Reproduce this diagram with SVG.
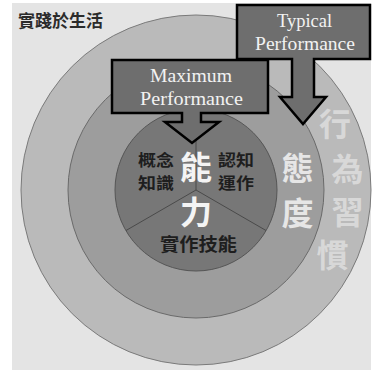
<svg xmlns="http://www.w3.org/2000/svg" width="373" height="371" viewBox="0 0 373 371">
<style>
.cjk{font-family:"Noto Sans CJK TC","Noto Sans CJK SC",sans-serif;font-weight:bold;text-anchor:middle}
.big{font-size:32px}
.small{font-size:18px;fill:#1e1e1e}
.pair{font-size:16px;fill:#1e1e1e}
.serif{font-family:"Liberation Serif",serif;font-size:18px;fill:#f2f2f2;text-anchor:middle}
.callout{fill:#6e6e6e;stroke:#000;stroke-width:2.5;stroke-linejoin:miter}
</style>
<rect x="0" y="0" width="373" height="371" fill="#ffffff"/>
<rect x="12" y="3" width="359" height="367" fill="#e4e4e4"/>
<g id="outer">
<circle cx="196" cy="190" r="175" fill="#bababa" stroke="#7a7a7a" stroke-width="1"/>
</g>
<g id="middle">
<circle cx="196" cy="190" r="128" fill="#9d9d9d" stroke="#6a6a6a" stroke-width="1"/>
</g>
<g id="inner">
<circle cx="196" cy="190" r="81" fill="#777777" stroke="#555555" stroke-width="1"/>
<g stroke="#4a4a4a" stroke-width="1">
<line x1="196" y1="190" x2="196" y2="109"/>
<line x1="196" y1="190" x2="126" y2="230.5"/>
<line x1="196" y1="190" x2="266" y2="230.5"/>
</g>
</g>
<g id="title">
<text x="18" y="26.5" class="cjk" style="text-anchor:start;font-size:17px;fill:#2b2b2b">實踐於生活</text>
</g>
<g id="ability">
<text x="196" y="179" class="cjk big" fill="#f4f4f4">能</text>
<text x="196" y="224" class="cjk big" fill="#f4f4f4">力</text>
<text x="156" y="165.5" class="cjk pair" textLength="36" lengthAdjust="spacingAndGlyphs">概念</text>
<text x="156" y="189" class="cjk pair" textLength="36" lengthAdjust="spacingAndGlyphs">知識</text>
<text x="236" y="165.5" class="cjk pair" textLength="36" lengthAdjust="spacingAndGlyphs">認知</text>
<text x="236" y="189" class="cjk pair" textLength="36" lengthAdjust="spacingAndGlyphs">運作</text>
<text x="198.5" y="251" class="cjk small" textLength="77" lengthAdjust="spacingAndGlyphs">實作技能</text>
</g>
<g id="attitude">
<text x="297.5" y="180" class="cjk big" fill="#e6e6e6">態</text>
<text x="297.5" y="225" class="cjk big" fill="#e6e6e6">度</text>
</g>
<g id="habit">
<text x="335" y="136" class="cjk big" fill="#d8d8d8">行</text>
<text x="347.5" y="181" class="cjk big" fill="#d8d8d8">為</text>
<text x="347.5" y="224" class="cjk big" fill="#d8d8d8">習</text>
<text x="332.5" y="267" class="cjk big" fill="#d8d8d8">慣</text>
</g>
<g id="connectors">
<path id="typical-callout" class="callout" d="M237,5 H370 V59 H314 V97 H326 L303,124 L280,97 H292 V59 H237 Z"/>
<path id="maximum-callout" class="callout" d="M112,60 H268 V113 H201 V122 H219 L192,143 L165,122 H182 V113 H112 Z"/>
</g>
<g id="typical">
<text x="304.5" y="27" class="serif" textLength="55" lengthAdjust="spacingAndGlyphs">Typical</text>
<text x="305" y="50" class="serif" textLength="100" lengthAdjust="spacingAndGlyphs">Performance</text>
</g>
<g id="maximum">
<text x="191" y="82" class="serif" textLength="82" lengthAdjust="spacingAndGlyphs">Maximum</text>
<text x="191.5" y="105" class="serif" textLength="103" lengthAdjust="spacingAndGlyphs">Performance</text>
</g>
</svg>
